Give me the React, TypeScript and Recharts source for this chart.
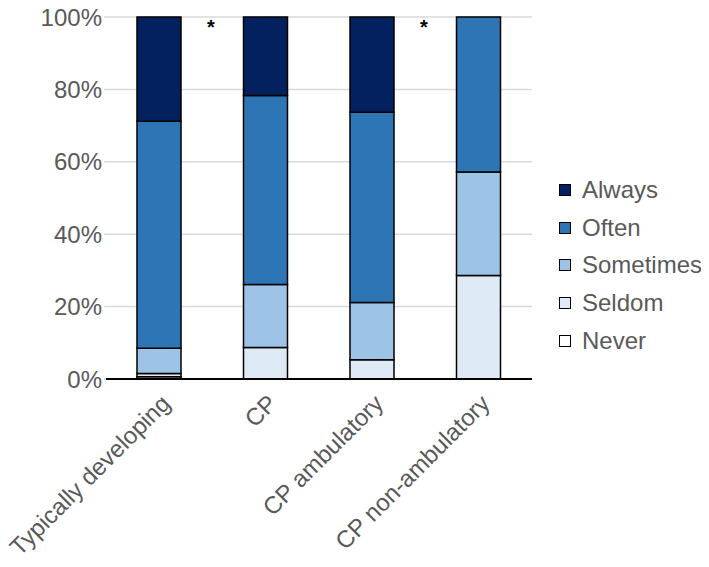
import React from "react";
import { BarChart, Bar, XAxis, YAxis, CartesianGrid, Legend, LabelList } from "recharts";

const categories = ["Typically developing", "CP", "CP ambulatory", "CP non-ambulatory"];
const never = [0.6, 0, 0, 0];
const seldom = [0.9, 8.7, 5.3, 28.6];
const sometimes = [7.0, 17.4, 15.8, 28.6];
const often = [62.7, 52.2, 52.6, 42.8];
const always = [28.8, 21.7, 26.3, 0];
const stars = ["*", "", "*", ""];
const yTicks = [0, 20, 40, 60, 80, 100];

const seriesNames = ["Never", "Seldom", "Sometimes", "Often", "Always"];
const seriesColors = ["#FFFFFF", "#DEEBF7", "#9DC3E6", "#2E75B6", "#03215F"];

const data = categories.map((c, i) => ({
  name: c,
  Never: never[i],
  Seldom: seldom[i],
  Sometimes: sometimes[i],
  Often: often[i],
  Always: always[i],
  star: stars[i],
}));

const FONT = '"Liberation Sans", Arial, Helvetica, sans-serif';
const TEXT = "#595959";

const XTick = (props: any) => {
  const { x, y, payload } = props;
  return (
    <text
      transform={`translate(${x + 12.5},${y + 26}) rotate(-45)`}
      textAnchor="end"
      fontSize={24}
      fill={TEXT}
      fontFamily={FONT}
    >
      {payload.value}
    </text>
  );
};

const StarLabel = (props: any) => {
  const { x, y, width, value } = props;
  if (!value) return null;
  return (
    <text
      x={x + width + 30}
      y={y + 17}
      textAnchor="middle"
      fontSize={20}
      fontWeight="bold"
      fill="#000"
      fontFamily={FONT}
    >
      {value}
    </text>
  );
};

const LegendContent = () => {
  const order = [4, 3, 2, 1, 0];
  return (
    <div style={{ fontFamily: FONT }}>
      {order.map((i) => (
        <div key={seriesNames[i]} style={{ display: "flex", alignItems: "center", height: 37.7 }}>
          <div
            style={{
              width: 12,
              height: 12,
              boxSizing: "border-box",
              border: "1.5px solid #000",
              background: seriesColors[i],
              marginLeft: 4,
              marginRight: 11,
            }}
          />
          <span style={{ fontSize: 24, color: TEXT, lineHeight: "26px" }}>{seriesNames[i]}</span>
        </div>
      ))}
    </div>
  );
};

export default function App() {
  return (
    <div style={{ marginLeft: -8, marginTop: -8, width: 709, height: 567, background: "#fff" }}>
      <BarChart
        width={709}
        height={567}
        data={data}
        margin={{ top: 17, right: 177, bottom: 0, left: 0 }}
        barSize={44}
      >
        <CartesianGrid vertical={false} stroke="#d9d9d9" strokeWidth={1.5} />
        <XAxis
          dataKey="name"
          height={188}
          tickLine={false}
          tickSize={0}
          tickMargin={0}
          axisLine={{ stroke: "#000", strokeWidth: 2 }}
          tick={<XTick />}
          interval={0}
        />
        <YAxis
          width={106}
          domain={[0, 100]}
          ticks={yTicks}
          tickFormatter={(v: number) => `${v}%`}
          axisLine={false}
          tickLine={{ stroke: "#d9d9d9", strokeWidth: 1.5 }}
          tickSize={2}
          tickMargin={2}
          tick={{ fontSize: 24, fill: TEXT, fontFamily: FONT }}
        />
        <Legend
          layout="vertical"
          align="center"
          verticalAlign="middle"
          content={<LegendContent />}
          wrapperStyle={{ left: 555, top: 171, width: 160 }}
        />
        {seriesNames.map((s, i) => (
          <Bar
            key={s}
            dataKey={s}
            stackId="a"
            fill={seriesColors[i]}
            stroke="#000"
            strokeWidth={1.5}
            isAnimationActive={false}
          >
            {s === "Always" ? <LabelList dataKey="star" content={<StarLabel />} /> : null}
          </Bar>
        ))}
      </BarChart>
    </div>
  );
}
